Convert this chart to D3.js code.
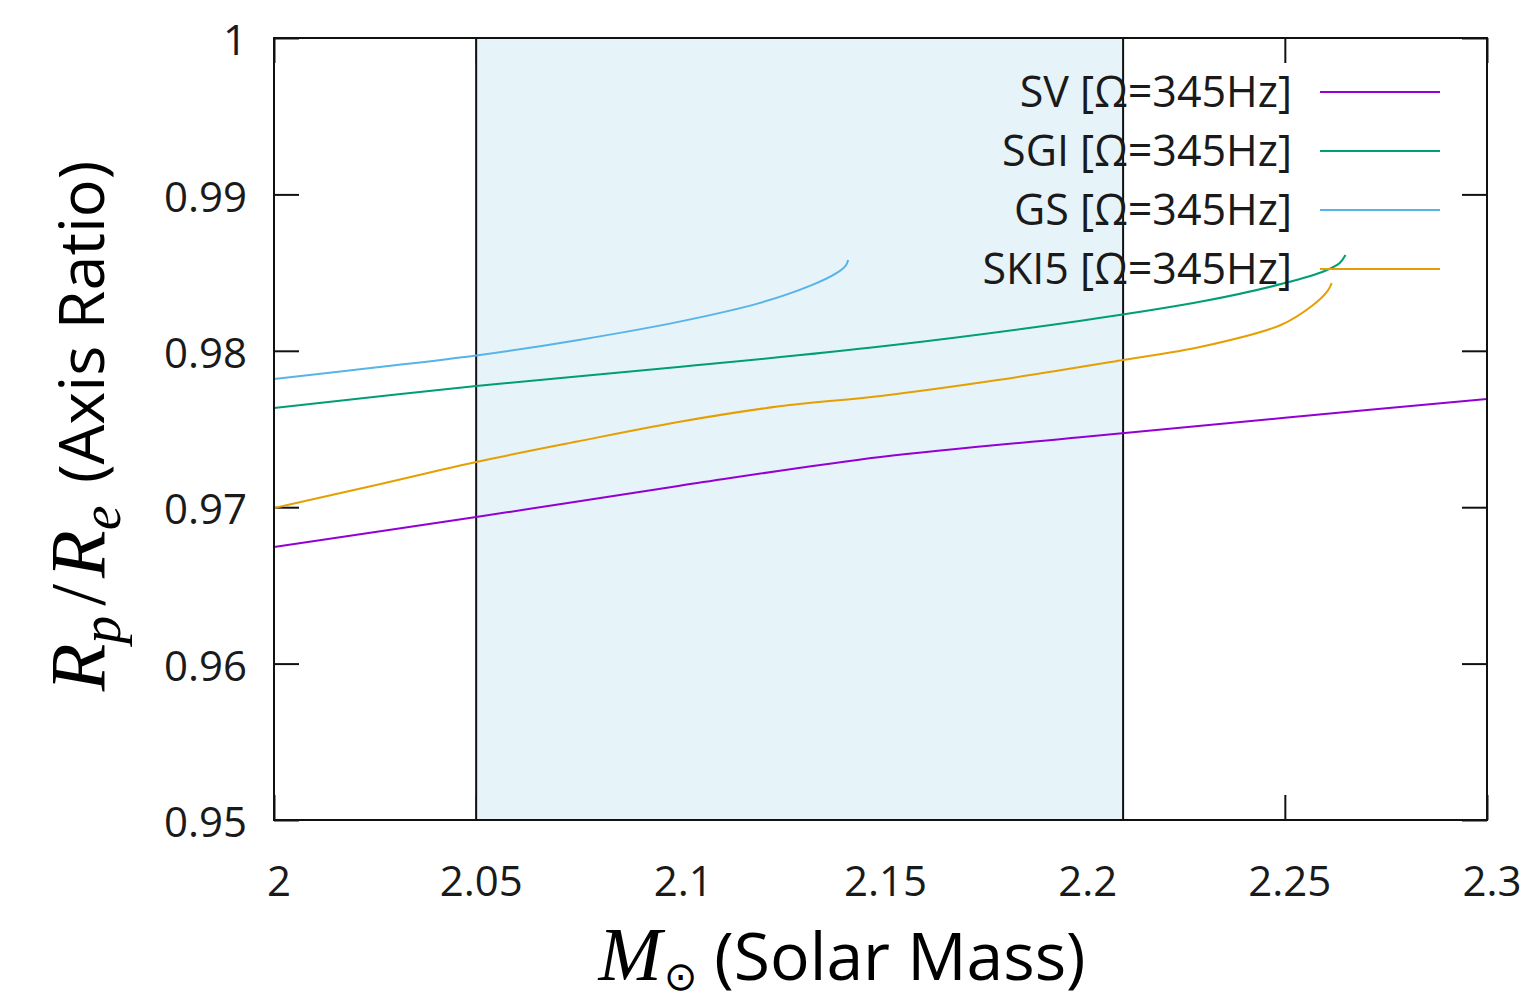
<!DOCTYPE html>
<html>
<head>
<meta charset="utf-8">
<script src="https://cdn.jsdelivr.net/npm/d3@7"></script>
<style>
  html, body { margin: 0; padding: 0; background: #fff; }
  svg { display: block; }
</style>
</head>
<body>
<svg id="chart" width="1521" height="1006"></svg>
<script>
// ---- data ----
const xTicks = [2, 2.05, 2.1, 2.15, 2.2, 2.25, 2.3];
const yTicks = [0.95, 0.96, 0.97, 0.98, 0.99, 1];
const xTickLabels = ["2", "2.05", "2.1", "2.15", "2.2", "2.25", "2.3"];
const yTickLabels = ["0.95", "0.96", "0.97", "0.98", "0.99", "1"];
const band = [2.05, 2.21];

const seriesNames = ["SV [Ω=345Hz]", "SGI [Ω=345Hz]", "GS [Ω=345Hz]", "SKI5 [Ω=345Hz]"];
const seriesColors = ["#9400d3", "#009e73", "#56b4e9", "#e69f00"];

const svMass  = [2.0, 2.05, 2.1, 2.15, 2.2, 2.25, 2.3];
const svRatio = [0.96746, 0.96937, 0.97136, 0.97321, 0.97449, 0.97572, 0.97692];

const sgiMass  = [2.0, 2.05, 2.1, 2.15, 2.2, 2.23, 2.25, 2.26, 2.2635, 2.265];
const sgiRatio = [0.97634, 0.97775, 0.97896, 0.98027, 0.98194, 0.98318, 0.98433, 0.98512, 0.98560, 0.98613];

const gsMass  = [2.0, 2.025, 2.05, 2.075, 2.1, 2.12, 2.133, 2.139, 2.1414, 2.142];
const gsRatio = [0.97820, 0.97893, 0.97970, 0.98068, 0.98185, 0.98305, 0.98420, 0.98495, 0.98545, 0.98581];

const ski5Mass  = [2.0, 2.025, 2.05, 2.075, 2.1, 2.125, 2.15, 2.179, 2.21, 2.229, 2.249, 2.2566, 2.2605, 2.2616];
const ski5Ratio = [0.96995, 0.97140, 0.97289, 0.97420, 0.97545, 0.97645, 0.97711, 0.97813, 0.97941, 0.98024, 0.98165, 0.98285, 0.98380, 0.98433];

const seriesMass = [svMass, sgiMass, gsMass, ski5Mass];
const seriesRatio = [svRatio, sgiRatio, gsRatio, ski5Ratio];

// ---- layout ----
const svg = d3.select("#chart");
const L = 274, R = 1487, T = 38, B = 820;
const x = d3.scaleLinear().domain([2, 2.3]).range([L, R]);
const y = d3.scaleLinear().domain([0.95, 1]).range([B, T]);
const tickLen = 25;
const sansFont = "'Open Sans', 'Noto Sans', sans-serif";
const serifFont = "'Liberation Serif', 'DejaVu Serif', serif";

svg.append("defs").append("clipPath").attr("id", "plotclip")
  .append("rect").attr("x", L).attr("y", T).attr("width", R - L).attr("height", B - T);

// inward ticks (mirrored on all sides), drawn under the shaded band
const bottomAxis = d3.axisBottom(x).tickValues(xTicks).tickSize(-tickLen).tickFormat("");
const topAxis = d3.axisTop(x).tickValues(xTicks).tickSize(-tickLen).tickFormat("");
const leftAxis = d3.axisLeft(y).tickValues(yTicks).tickSize(-tickLen).tickFormat("");
const rightAxis = d3.axisRight(y).tickValues(yTicks).tickSize(-tickLen).tickFormat("");
[[bottomAxis, `translate(0,${B})`], [topAxis, `translate(0,${T})`],
 [leftAxis, `translate(${L},0)`], [rightAxis, `translate(${R},0)`]].forEach(([ax, tr]) => {
  const g = svg.append("g").attr("transform", tr).call(ax);
  g.select(".domain").remove();
  g.selectAll(".tick line").attr("stroke", "#111").attr("stroke-width", 2);
});

// shaded band
svg.append("rect")
  .attr("x", x(band[0])).attr("y", T)
  .attr("width", x(band[1]) - x(band[0])).attr("height", B - T)
  .attr("fill", "#e6f3f9");
band.forEach(b => {
  svg.append("line").attr("x1", x(b)).attr("x2", x(b)).attr("y1", T).attr("y2", B)
    .attr("stroke", "#111").attr("stroke-width", 2);
});

// curves
const line = d3.line().x(d => x(d[0])).y(d => y(d[1])).curve(d3.curveCatmullRom.alpha(0.5));
const curveG = svg.append("g").attr("clip-path", "url(#plotclip)");
seriesNames.forEach((name, i) => {
  const pts = seriesMass[i].map((m, j) => [m, seriesRatio[i][j]]);
  curveG.append("path").datum(pts).attr("d", line)
    .attr("fill", "none").attr("stroke", seriesColors[i]).attr("stroke-width", 2);
});

// legend
const legY = [92, 151, 210, 269];
seriesNames.forEach((name, i) => {
  svg.append("text").attr("x", 1292).attr("y", legY[i]).attr("dy", "0.36em")
    .attr("text-anchor", "end").attr("font-family", sansFont).attr("font-size", 43)
    .attr("fill", "#1a1a1a").text(name);
  svg.append("line").attr("x1", 1320).attr("x2", 1440).attr("y1", legY[i]).attr("y2", legY[i])
    .attr("stroke", seriesColors[i]).attr("stroke-width", 2);
});

// border
svg.append("rect").attr("x", L).attr("y", T).attr("width", R - L).attr("height", B - T)
  .attr("fill", "none").attr("stroke", "#111").attr("stroke-width", 2);

// tick labels
xTicks.forEach((v, i) => {
  svg.append("text").attr("x", x(v) + 5).attr("y", 896)
    .attr("text-anchor", "middle").attr("font-family", sansFont).attr("font-size", 42)
    .attr("fill", "#1a1a1a").text(xTickLabels[i]);
});
yTicks.forEach((v, i) => {
  svg.append("text").attr("x", 247).attr("y", y(v) + 2).attr("dy", "0.36em")
    .attr("text-anchor", "end").attr("font-family", sansFont).attr("font-size", 42)
    .attr("fill", "#1a1a1a").text(yTickLabels[i]);
});

// x axis title
const xt = svg.append("text").attr("x", 842).attr("y", 980)
  .attr("text-anchor", "middle").attr("fill", "#000");
xt.append("tspan").attr("font-family", serifFont).attr("font-style", "italic")
  .attr("font-size", 76).text("M");
xt.append("tspan").attr("font-family", "'DejaVu Sans', sans-serif").attr("font-size", 40)
  .attr("dy", 10).attr("dx", 2).text("⊙");
xt.append("tspan").attr("font-family", sansFont).attr("font-size", 66)
  .attr("dy", -10).text(" (Solar Mass)");

// y axis title
const yt = svg.append("text").attr("transform", "translate(104,426) rotate(-90)")
  .attr("text-anchor", "middle").attr("fill", "#000");
yt.append("tspan").attr("font-family", serifFont).attr("font-style", "italic")
  .attr("font-size", 78).text("R");
yt.append("tspan").attr("font-family", serifFont).attr("font-style", "italic")
  .attr("font-size", 56).attr("dy", 16).text("p");
yt.append("tspan").attr("font-family", serifFont)
  .attr("font-size", 78).attr("dy", -16).attr("dx", 10).text("/");
yt.append("tspan").attr("font-family", serifFont).attr("font-style", "italic")
  .attr("font-size", 78).attr("dx", 6).text("R");
yt.append("tspan").attr("font-family", serifFont).attr("font-style", "italic")
  .attr("font-size", 56).attr("dy", 16).text("e");
yt.append("tspan").attr("font-family", sansFont).attr("font-size", 63)
  .attr("dy", -16).attr("dx", 6).text(" (Axis Ratio)");
</script>
</body>
</html>
